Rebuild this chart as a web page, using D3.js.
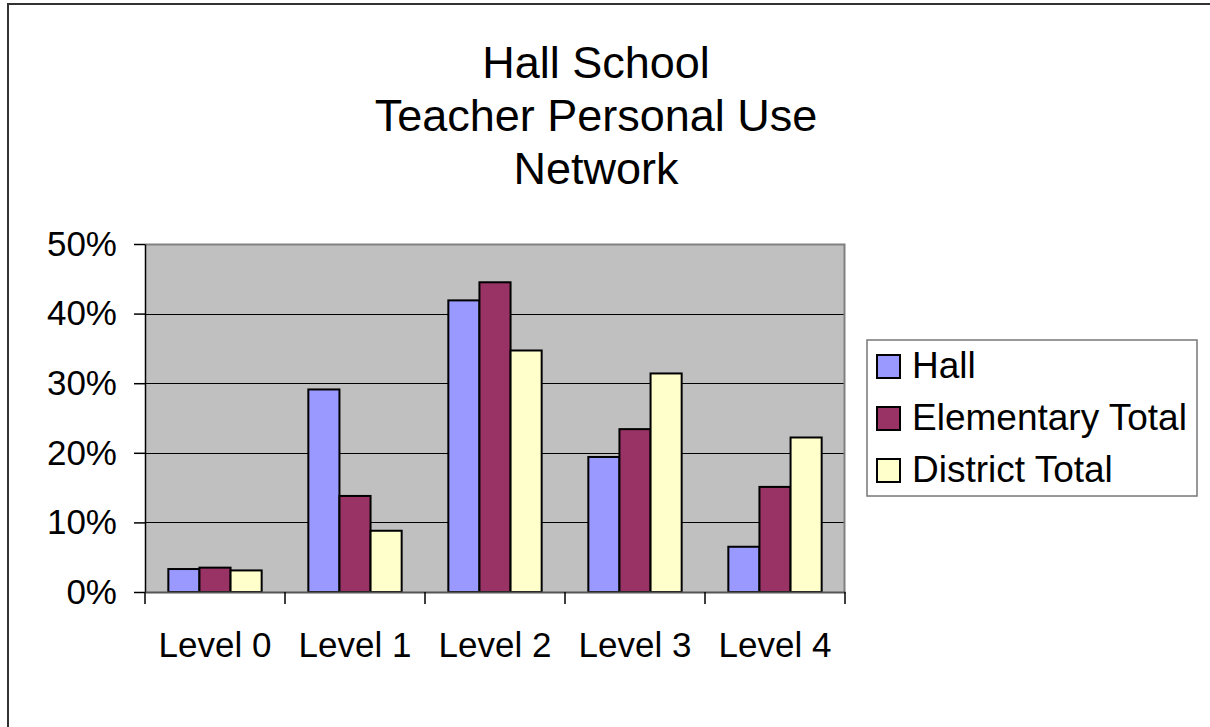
<!DOCTYPE html>
<html>
<head>
<meta charset="utf-8">
<script src="https://cdn.jsdelivr.net/npm/d3@7"></script>
<style>
  body { margin: 0; background: #fff; }
  text { font-family: "Liberation Sans", Arial, sans-serif; fill: #000; }
</style>
</head>
<body>
<div class="chart"></div>
<script>
"use strict";
const titleLines = ["Hall School", "Teacher Personal Use", "Network"];
const categories = ["Level 0", "Level 1", "Level 2", "Level 3", "Level 4"];
const seriesNames = ["Hall", "Elementary Total", "District Total"];
const hall = [0.033, 0.291, 0.419, 0.194, 0.065];
const elementary = [0.035, 0.138, 0.445, 0.234, 0.151];
const district = [0.031, 0.088, 0.347, 0.314, 0.222];
const colors = ["#9999FF", "#993366", "#FFFFCC"];
const yTicks = [0, 0.1, 0.2, 0.3, 0.4, 0.5];

const W = 1210, H = 727;
const plot = {left: 145, right: 845, top: 244, bottom: 592};

let svg = d3.select(".chart").append("svg")
    .attr("width", W)
    .attr("height", H);

// outer chart border (only top/left visible)
svg.append("rect")
    .attr("x", 8).attr("y", 4)
    .attr("width", 1400).attr("height", 900)
    .style("fill", "none")
    .style("stroke", "#333")
    .style("stroke-width", 2);

// title
svg.append("text")
    .attr("text-anchor", "middle")
    .style("font-size", "45px")
    .selectAll("tspan")
    .data(titleLines)
    .enter().append("tspan")
    .attr("x", 596)
    .attr("y", (d, i) => 78 + i * 53)
    .text(d => d);

let x0 = d3.scaleBand().domain(categories).range([plot.left, plot.right]);
let bw = x0.bandwidth() / 4.5;
let x1 = d3.scaleBand().domain(seriesNames)
    .range([bw * 0.75, x0.bandwidth() - bw * 0.75]);
let y = d3.scaleLinear().domain([0, 0.5]).range([plot.bottom, plot.top]);

// plot background
svg.append("rect")
    .attr("x", plot.left).attr("y", plot.top)
    .attr("width", plot.right - plot.left)
    .attr("height", plot.bottom - plot.top)
    .style("fill", "#C0C0C0");

// gridlines
svg.append("g")
    .selectAll("line")
    .data(yTicks.slice(1, -1))
    .enter().append("line")
    .attr("x1", plot.left).attr("x2", plot.right)
    .attr("y1", d => Math.round(y(d)) + 0.5)
    .attr("y2", d => Math.round(y(d)) + 0.5)
    .style("stroke", "#000")
    .style("stroke-width", 1);

// top and right frame
svg.append("path")
    .attr("d", `M${plot.left},${plot.top + 0.5}H${plot.right - 0.5}V${plot.bottom}`)
    .style("fill", "none")
    .style("stroke", "#808080")
    .style("stroke-width", 2);

// bars
let table = categories.map((c, i) => ({
    cat: c,
    vals: [hall[i], elementary[i], district[i]]
}));
let groups = svg.append("g")
    .selectAll("g")
    .data(table)
    .enter().append("g")
    .attr("transform", d => "translate(" + x0(d.cat) + ",0)");
groups.selectAll("rect")
    .data(d => d.vals.map((v, j) => ({name: seriesNames[j], value: v, color: colors[j]})))
    .enter().append("rect")
    .attr("x", d => x1(d.name))
    .attr("width", x1.bandwidth())
    .attr("y", d => y(d.value))
    .attr("height", d => y(0) - y(d.value))
    .style("fill", d => d.color)
    .style("stroke", "#000")
    .style("stroke-width", 2);

// y axis
let yAxis = d3.axisLeft(y)
    .tickValues(yTicks)
    .tickFormat(d3.format(".0%"))
    .tickSizeInner(11)
    .tickSizeOuter(0)
    .tickPadding(17);
let gy = svg.append("g")
    .attr("transform", "translate(" + plot.left + ",0)")
    .call(yAxis);
gy.selectAll("text")
    .style("font-size", "35px")
    .style("font-family", "'Liberation Sans', Arial, sans-serif");
gy.selectAll("line").style("stroke", "#000").style("stroke-width", 1.5);
gy.select(".domain").style("stroke", "#000").style("stroke-width", 1.5);

// x axis
let xAxis = d3.axisBottom(x0).tickSize(0).tickPadding(40);
let gx = svg.append("g")
    .attr("transform", "translate(0," + plot.bottom + ")")
    .call(xAxis);
gx.select(".domain").style("stroke", "#555").style("stroke-width", 2);
gx.selectAll("text")
    .style("font-size", "35px")
    .style("font-family", "'Liberation Sans', Arial, sans-serif");
// category boundary ticks
gx.append("g")
    .selectAll("line")
    .data(categories.map(c => x0(c)).concat([plot.right]))
    .enter().append("line")
    .attr("x1", d => d).attr("x2", d => d)
    .attr("y1", 0).attr("y2", 12)
    .style("stroke", "#000")
    .style("stroke-width", 1.5);

// legend
let legend = svg.append("g").attr("transform", "translate(867,340)");
legend.append("rect")
    .attr("width", 330).attr("height", 156)
    .style("fill", "#fff")
    .style("stroke", "#777")
    .style("stroke-width", 1.5);
let item = legend.selectAll(".item")
    .data(seriesNames)
    .enter().append("g")
    .attr("class", "item")
    .attr("transform", (d, i) => "translate(0," + (38 + i * 52) + ")");
item.append("rect")
    .attr("x", 10).attr("y", -23)
    .attr("width", 23).attr("height", 23)
    .style("fill", (d, i) => colors[i])
    .style("stroke", "#000")
    .style("stroke-width", 2);
item.append("text")
    .attr("x", 45)
    .style("font-size", "37px")
    .text(d => d);
</script>
</body>
</html>
